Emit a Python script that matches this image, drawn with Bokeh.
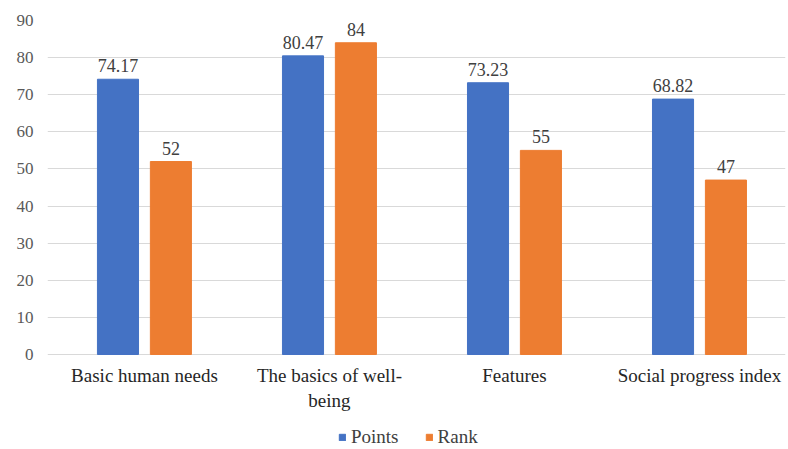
from bokeh.plotting import figure
from bokeh.models import (ColumnDataSource, Range1d, FixedTicker, Legend, LegendItem)
from bokeh.transform import dodge
from bokeh.core.properties import value
from bokeh.embed import file_html
from bokeh.resources import INLINE

categories = ["Basic human needs", "The basics of well-\nbeing", "Features", "Social progress index"]
points = [74.17, 80.47, 73.23, 68.82]
rank = [52, 84, 55, 47]
point_labels = ["74.17", "80.47", "73.23", "68.82"]
rank_labels = ["52", "84", "55", "47"]
y_ticks = [0, 10, 20, 30, 40, 50, 60, 70, 80, 90]

FONT = "Liberation Serif"
BLUE = "#4472C4"
ORANGE = "#ED7D31"

xs = list(range(len(categories)))
base = [0] * len(categories)
src = ColumnDataSource(dict(x=xs, points=points, rank=rank, base=base, cat=categories,
                            plab=point_labels, rlab=rank_labels))

# frame extends below the zero line to leave room for category labels and legend
p = figure(width=788, height=449, frame_width=738, frame_height=429,
           output_backend="svg", toolbar_location=None, x_axis_location=None,
           x_range=Range1d(-0.524, 3.465), y_range=Range1d(-25.6, 90),
           min_border_left=47, min_border_right=3, min_border_top=20,
           min_border_bottom=0)
p.outline_line_color = None
p.background_fill_color = "white"
p.border_fill_color = "white"

off = 0.143
w = 0.222
r1 = p.vbar(x=dodge("x", -off, range=p.x_range), top="points", bottom="base", width=w,
            color=BLUE, source=src)
r2 = p.vbar(x=dodge("x", off, range=p.x_range), top="rank", bottom="base", width=w,
            color=ORANGE, source=src)

p.text(x=dodge("x", -off, range=p.x_range), y="points", text="plab", source=src,
       text_align="center", text_baseline="bottom", y_offset=-7,
       text_font=value(FONT), text_font_size="18px", text_color="#404040")
p.text(x=dodge("x", off, range=p.x_range), y="rank", text="rlab", source=src,
       text_align="center", text_baseline="bottom", y_offset=-7,
       text_font=value(FONT), text_font_size="18px", text_color="#404040")

# category labels under the zero line
p.text(x="x", y="base", text="cat", source=src,
       text_align="center", text_baseline="top", y_offset=11,
       text_font=value(FONT), text_font_size="19px", text_color="#262626",
       text_line_height=1.15)

p.yaxis.ticker = FixedTicker(ticks=y_ticks)
p.yaxis.axis_line_color = None
p.yaxis.major_tick_line_color = None
p.yaxis.minor_tick_line_color = None
p.yaxis.major_label_text_font = FONT
p.yaxis.major_label_text_font_size = "17px"
p.yaxis.major_label_text_color = "#595959"
p.yaxis.major_label_standoff = 8

p.xgrid.grid_line_color = None
p.ygrid.grid_line_color = "#D9D9D9"
p.ygrid.grid_line_width = 1

legend = Legend(items=[LegendItem(label="Points", renderers=[r1]),
                       LegendItem(label="Rank", renderers=[r2])],
                orientation="horizontal", location=(291, 1),
                label_text_font=FONT, label_text_font_size="19px",
                label_text_color="#404040", glyph_width=8, glyph_height=8,
                spacing=26, border_line_color=None, padding=2, margin=0,
                label_standoff=5, label_height=19, background_fill_alpha=0)
p.add_layout(legend, "center")

open("out.html", "w").write(file_html(p, INLINE))
